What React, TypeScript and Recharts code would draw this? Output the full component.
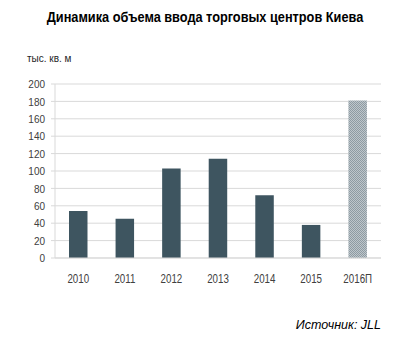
import React from "react";
import { BarChart, Bar, XAxis, YAxis, CartesianGrid, Cell } from "recharts";

const years = ["2010", "2011", "2012", "2013", "2014", "2015", "2016П"];
const volumes = [54, 45, 103, 114, 72, 38, 181];
const forecastFlags = [false, false, false, false, false, false, true];
const yTicks = [0, 20, 40, 60, 80, 100, 120, 140, 160, 180, 200];
const boundaryTicks = [0, 1, 2, 3, 4, 5, 6, 7];

const data = years.map((y, i) => ({ year: y, value: volumes[i], idx: i, forecast: forecastFlags[i] }));

const font = "'Liberation Sans', Arial, sans-serif";

const YTick = (props: any) => {
  const { x, y, payload } = props;
  return (
    <g transform={`translate(${x},${y}) scale(0.87,1)`}>
      <text x={0} y={0} dy="0.36em" textAnchor="end" fill="#404040" fontSize={11.5} fontFamily={font}>
        {payload.value}
      </text>
    </g>
  );
};

const XTick = (props: any) => {
  const { x, y, payload } = props;
  return (
    <g transform={`translate(${x},${y}) scale(0.8,1)`}>
      <text x={0} y={0} dy="0.71em" textAnchor="middle" fill="#404040" fontSize={12.2} fontFamily={font}>
        {payload.value}
      </text>
    </g>
  );
};

export default function App() {
  return (
    <div style={{ position: "absolute", left: 0, top: 0, width: 410, height: 356, background: "#fff" }}>
      <div
        style={{
          position: "absolute",
          left: 0,
          width: 410,
          top: 9,
          textAlign: "center",
          fontFamily: font,
          fontWeight: "bold",
          fontSize: 14,
          color: "#000",
          transform: "scaleX(0.91)",
          transformOrigin: "205px 0",
          whiteSpace: "nowrap",
        }}
      >
        Динамика объема ввода торговых центров Киева
      </div>
      <div
        style={{
          position: "absolute",
          left: 27,
          top: 53,
          fontFamily: font,
          fontSize: 10,
          color: "#262626",
        }}
      >
        тыс. кв. м
      </div>
      <div
        style={{
          position: "absolute",
          right: 29,
          top: 318,
          fontFamily: font,
          fontStyle: "italic",
          fontSize: 12.5,
          color: "#000",
        }}
      >
        Источник: JLL
      </div>
      <BarChart
        width={410}
        height={356}
        data={data}
        margin={{ top: 84, right: 29, bottom: 68, left: 0 }}
        style={{ position: "absolute", left: 0, top: 0 }}
      >
        <defs>
          <pattern id="hatch" width="2" height="2" patternUnits="userSpaceOnUse">
            <rect width="2" height="2" fill="#bec6cb" />
            <rect width="1" height="1" fill="#8e9ba2" />
            <rect x="1" y="1" width="1" height="1" fill="#8e9ba2" />
          </pattern>
        </defs>
        <CartesianGrid vertical={false} stroke="#d9d9d9" />
        <XAxis
          dataKey="year"
          xAxisId="cat"
          height={30}
          axisLine={{ stroke: "#d9d9d9" }}
          tickLine={false}
          tickMargin={10}
          tick={<XTick />}
          interval={0}
        />
        <XAxis
          xAxisId="bound"
          type="number"
          dataKey="idx"
          domain={[0, 7]}
          ticks={boundaryTicks}
          tick={false}
          tickSize={5}
          tickLine={{ stroke: "#d9d9d9" }}
          axisLine={false}
          height={0}
          orientation="bottom"
        />
        <YAxis
          width={55}
          domain={[0, 200]}
          ticks={yTicks}
          axisLine={{ stroke: "#d9d9d9" }}
          tickLine={{ stroke: "#d9d9d9" }}
          tickSize={4}
          tickMargin={6}
          tick={<YTick />}
          interval={0}
        />
        <Bar dataKey="value" xAxisId="cat" barSize={18.5} isAnimationActive={false}>
          {data.map((d, i) => (
            <Cell key={i} fill={d.forecast ? "url(#hatch)" : "#3e5560"} />
          ))}
        </Bar>
      </BarChart>
    </div>
  );
}
